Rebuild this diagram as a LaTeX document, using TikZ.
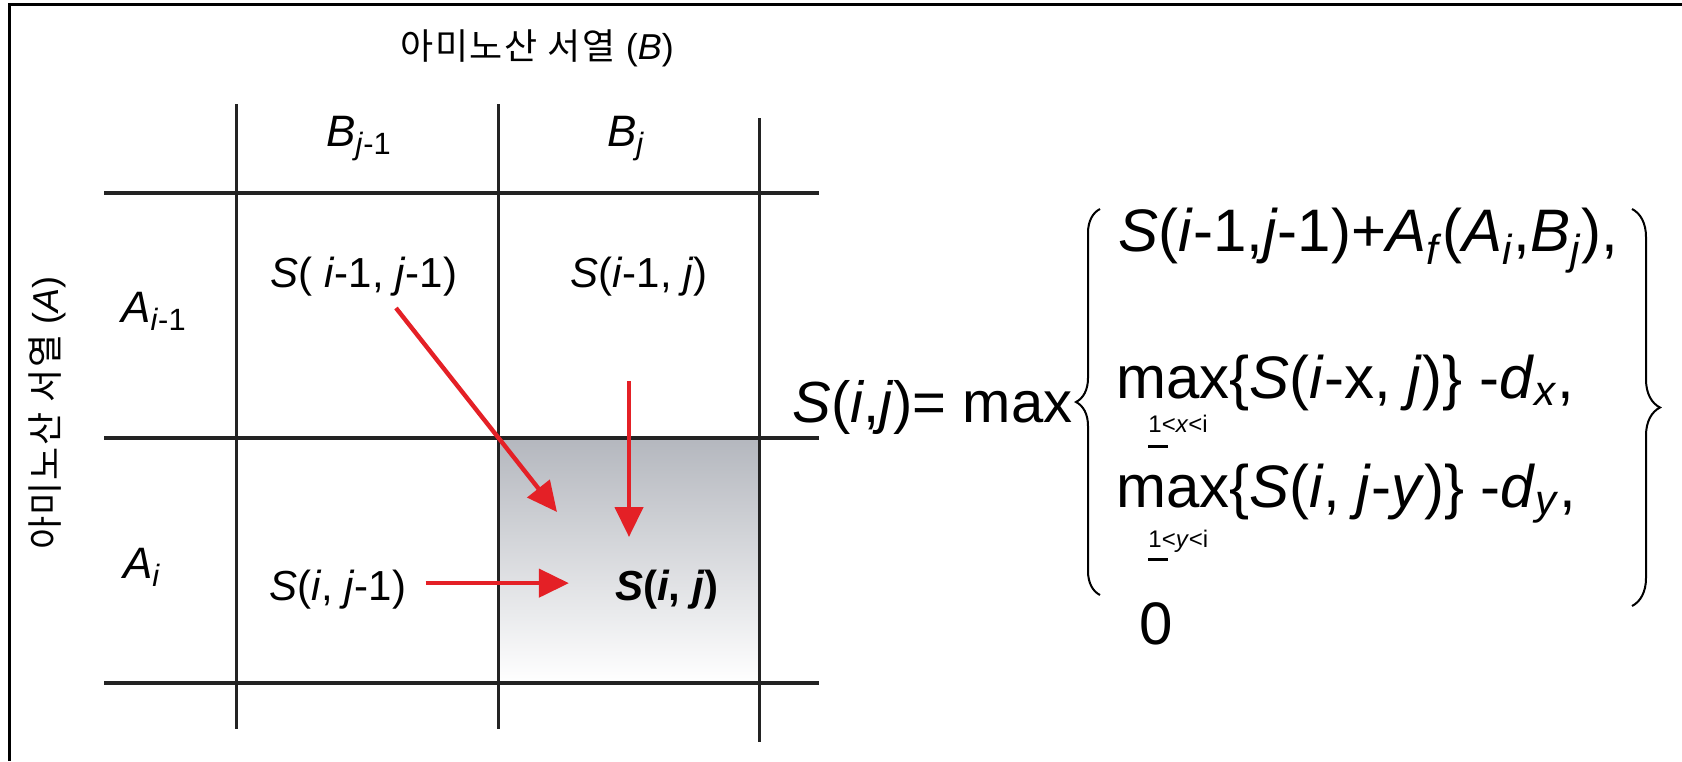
\documentclass[tikz,border=0pt]{standalone}
\usepackage{fontspec}
\setmainfont{Liberation Sans}
\newfontfamily\korfont[LetterSpace=5]{Noto Sans CJK KR}
\usetikzlibrary{positioning, arrows.meta, decorations.pathreplacing}
\definecolor{arrowred}{RGB}{228,32,38}
\definecolor{cellgray}{RGB}{180,183,190}
\definecolor{gridblack}{RGB}{35,35,35}

\begin{document}
\begin{tikzpicture}[
        x=0.5pt, y=-0.5pt,
        every node/.style={inner sep=0pt, text=black},
        % grid lines and frame
        hline/.style={draw=gridblack, line width=2pt},
        vline/.style={draw=gridblack, line width=1.5pt},
        frameline/.style={draw=black, line width=1.5pt},
        % text styles
        axislabel/.style={font=\fontsize{18}{22}\selectfont},
        headlabel/.style={font=\fontsize{22}{26}\selectfont, anchor=base},
        celltext/.style={font=\fontsize{21}{25}\selectfont, anchor=base},
        formula/.style={font=\fontsize{30}{36}\selectfont, anchor=base west},
        rangetext/.style={font=\fontsize{12}{14}\selectfont, anchor=base west},
        % red arrows
        redarrow/.style={draw=arrowred, line width=2.2pt, -{Triangle[length=15pt, width=14pt]}},
        bigbrace/.style={draw=black, line width=1pt, decorate, decoration={brace, amplitude=#1}}
    ]
    \useasboundingbox (0,0) rectangle (1682,761);

    % --- frame ---
    \draw[frameline] (9,761) -- (9,4) -- (1682,4);

    % --- shaded target cell ---
    \shade[top color=cellgray, bottom color=white] (498,438) rectangle (759,683);

    % --- grid ---
    \foreach \y in {193,438,683}
        \draw[hline] (104,\y) -- (819,\y);
    \draw[vline] (236,104) -- (236,729);
    \draw[vline] (498,104) -- (498,729);
    \draw[vline] (759,118) -- (759,742);

    % --- axis labels ---
    \node[axislabel] (seqB) at (537,48) {{\korfont 아미노산 서열} (\textit{B})};
    \node[axislabel, rotate=90] (seqA) at (47,413) {{\korfont 아미노산 서열} (\textit{A})};

    \node[headlabel] (bjm1) at (359,146) {\textit{B}\textsubscript{\textit{j}-1}};
    \node[headlabel] (bj) at (626,146) {\textit{B}\textsubscript{\textit{j}}};
    \node[headlabel] (aim1) at (154,322) {\textit{A}\textsubscript{\textit{i}-1}};
    \node[headlabel] (ai) at (142,578) {\textit{A}\textsubscript{\textit{i}}};

    % --- cell values ---
    \node[celltext] (sim1jm1) at (364,287) {\textit{S}( \textit{i}-1, \textit{j}-1)};
    \node[celltext] (sim1j) at (639,287) {\textit{S}(\textit{i}-1, \textit{j})};
    \node[celltext] (sijm1) at (338,600) {\textit{S}(\textit{i}, \textit{j}-1)};
    \node[celltext] (sij) at (667,600) {\textbf{\textit{S}(\textit{i}, \textit{j})}};

    % --- arrows into S(i,j) ---
    \coordinate (diagtail) at (396,308);
    \coordinate (diagtip) at (557,512);
    \coordinate (vtail) at (629,381);
    \coordinate (vtip) at (629,537);
    \draw[redarrow] (diagtail) -- (diagtip);
    \draw[redarrow] (vtail) -- (vtip);
    \draw[redarrow, shorten <=9.5pt, shorten >=23pt] ([yshift=3pt]sijm1.east) -- ([yshift=3pt]sij.west);

    % --- recurrence ---
    \node[formula, font=\fontsize{29}{34}\selectfont] (lhs) at (792,422) {\textit{S}(\textit{i},\textit{j})= max};
    \node[formula] (case1) at (1118,251) {\textit{S}(\textit{i}-1,\textit{j}-1)+\textit{A}\textsubscript{\textit{f}}(\textit{A}\textsubscript{\textit{i}},\textit{B}\textsubscript{\textit{j}}),};
    \node[formula] (case2) at (1116,398) {max\{\textit{S}(\textit{i}-x, \textit{j})\} -\textit{d}\textsubscript{\textit{x}},};
    \node[rangetext] (range2) at (1148,432) {\rlap{\rule[-8pt]{10pt}{1.3pt}}1<\textit{x}<i};
    \node[formula] (case3) at (1116,507) {max\{\textit{S}(\textit{i}, \textit{j}-\textit{y})\} -\textit{d}\textsubscript{\textit{y}},};
    \node[rangetext] (range3) at (1148,547) {\rlap{\rule[-7pt]{10pt}{1.3pt}}1<\textit{y}<i};
    \node[formula] (case4) at (1139,644) {0};

    \coordinate (lbrbot) at (1100,595);
    \coordinate (lbrtop) at (1100,209);
    \coordinate (rbrtop) at (1632,209);
    \coordinate (rbrbot) at (1632,606);
    \draw[bigbrace=12pt] (lbrbot) -- (lbrtop);
    \draw[bigbrace=14pt] (rbrtop) -- (rbrbot);

\end{tikzpicture}
\end{document}
